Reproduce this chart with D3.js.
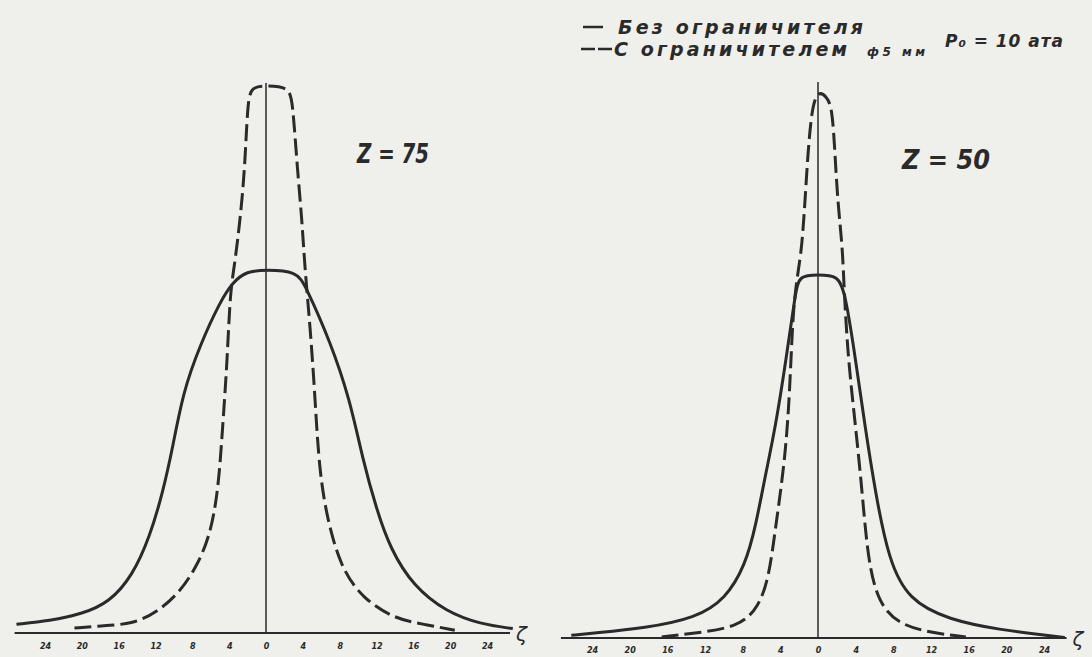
<!DOCTYPE html>
<html><head><meta charset="utf-8">
<script src="https://cdn.jsdelivr.net/npm/d3@7"></script>
<style>
html,body{margin:0;padding:0;background:#efefec;}
svg{display:block;}
text{font-family:"DejaVu Sans",sans-serif;font-style:italic;fill:#2a2a2a;}
</style></head>
<body>
<script>
// ---- data (ζ positions and relative values) ----
const tickValues = [-24,-20,-16,-12,-8,-4,0,4,8,12,16,20,24];
const tickLabels = ["24","20","16","12","8","4","0","4","8","12","16","20","24"];

// Z = 75 panel
const z75SolidZeta = [-27.1,-23.5,-19.9,-17.0,-14.5,-12.6,-11.2,-10.1,-9.0,-7.2,-5.0,-3.6,-2.1,0,3.3,4.3,7.0,9.1,10.5,12.0,13.5,16.0,19.6,23.3,26.8];
const z75SolidVal  = [1.6,2.2,3.5,5.6,10.4,17.6,25.6,34,43.8,52.2,60.2,63.8,65.8,66,65.8,63.1,52.9,42.5,31.6,22.5,15.3,8.5,3.8,1.6,0.8];
const z75DashZeta  = [-20.8,-18,-14.5,-11.8,-9.3,-7.5,-6.1,-5.2,-4.7,-4.2,-3.9,-3.4,-2.8,-2.3,-2.0,-1.6,0,2.5,2.9,3.4,3.9,4.2,4.8,5.3,5.7,6.4,8.0,10.5,14.1,17.1,20.5];
const z75DashVal   = [0.9,1.3,1.6,3.8,7.5,12.2,17.6,25.6,37.6,49.8,62,67,75.3,84.4,96.5,99.3,99.5,99.3,96.5,84.4,75.3,66.7,55.6,43.5,31.6,22.5,12.2,6.2,2.5,1.6,0.5];

// Z = 50 panel
const z50SolidZeta = [-26.2,-23.7,-18.4,-13.0,-9.8,-7.7,-6.6,-5.6,-4.5,-3.4,-2.4,-2.0,0,2.1,2.9,4.0,5.0,6.1,7.5,9.6,13.9,19.3,24.6,26.2];
const z50SolidVal  = [0.5,0.9,1.8,3.6,7.1,13.3,20.5,29.5,38.5,50.5,62.7,66,66,66,62.7,50.5,38.4,26.4,14.2,6.9,3.3,1.5,0.4,0.1];
const z50DashZeta  = [-16.6,-13.0,-8.4,-6.3,-5.2,-4.5,-3.5,-3.0,-2.67,-2.14,-1.71,-1.39,-1.07,-0.64,0,0.9,1.5,1.8,2.1,2.6,2.75,3.2,4.0,4.7,5.3,6.4,8.6,12.2,15.7];
const z50DashVal   = [0.2,0.9,2.0,5.6,11.1,20.2,32.4,44.5,59.6,66.4,71.1,79.1,88.2,96.5,99.5,98.5,96.5,88.2,79.1,71.1,64,50.5,38.4,26.4,14.2,6.4,2.4,0.9,0.2];

const legendLabels = ["Без ограничителя", "С ограничителем", "ф5 мм", "P₀ = 10 ата"];
const panelTitles = ["Z = 75", "Z = 50"];
const axisName = "ζ";

// ---- drawing ----
const W = 1092, H = 657;
const ink = "#2a2a2a";
const svg = d3.select("body").append("svg").attr("width", W).attr("height", H);

const panels = [
  {title: panelTitles[0], xr:[45,487], yr:[633,83], axisExt:[-27.3,26.5], top:83,
   solid:[z75SolidZeta,z75SolidVal], dash:[z75DashZeta,z75DashVal], titleX:357, titleY:163, titleW:72, labY:652},
  {title: panelTitles[1], xr:[592,1044], yr:[638,88], axisExt:[-27.3,26.4], top:82,
   solid:[z50SolidZeta,z50SolidVal], dash:[z50DashZeta,z50DashVal], titleX:902, titleY:169, titleW:88, labY:656}
];

panels.forEach(p => {
  const x = d3.scaleLinear().domain([-24,24]).range(p.xr);
  const y = d3.scaleLinear().domain([0,100]).range(p.yr);
  const g = svg.append("g");

  // axis baseline
  g.append("line")
    .attr("x1", x(p.axisExt[0])).attr("x2", x(p.axisExt[1]))
    .attr("y1", y(0)).attr("y2", y(0))
    .attr("stroke", ink).attr("stroke-width", 2);
  g.append("text").attr("x", x(p.axisExt[1]) + 6).attr("y", y(0) + 8)
    .attr("font-size", 20).attr("font-style","normal").text(axisName);

  // tick labels via d3 axis
  const ax = d3.axisBottom(x).tickValues(tickValues)
    .tickFormat((d,i) => tickLabels[i]).tickSize(0).tickPadding(0);
  const ag = g.append("g").attr("transform", `translate(0,${p.labY - 9})`).call(ax);
  ag.select(".domain").remove();
  ag.selectAll("text").attr("font-size", 8).attr("font-weight", "bold")
    .attr("font-family", "DejaVu Sans").attr("font-style","italic").attr("fill", ink);

  // central vertical line
  g.append("line").attr("x1", x(0)).attr("x2", x(0))
    .attr("y1", p.top).attr("y2", y(0))
    .attr("stroke", ink).attr("stroke-width", 1.5);

  const line = d3.line().x(d => x(d[0])).y(d => y(d[1])).curve(d3.curveBasis);
  const solidPts = p.solid[0].map((z,i) => [z, p.solid[1][i]]);
  const dashPts = p.dash[0].map((z,i) => [z, p.dash[1][i]]);

  g.append("path").attr("d", line(dashPts)).attr("fill","none")
    .attr("stroke", ink).attr("stroke-width", 3).attr("stroke-dasharray","17,6");
  g.append("path").attr("d", line(solidPts)).attr("fill","none")
    .attr("stroke", ink).attr("stroke-width", 3);

  g.append("text").attr("x", p.titleX).attr("y", p.titleY)
    .attr("font-size", 26).attr("font-weight","bold")
    .attr("textLength", p.titleW).attr("lengthAdjust","spacingAndGlyphs").text(p.title);
});

// legend
const lg = svg.append("g");
lg.append("line").attr("x1",583).attr("x2",603).attr("y1",27).attr("y2",27)
  .attr("stroke",ink).attr("stroke-width",2.5);
lg.append("text").attr("x",618).attr("y",34).attr("font-size",19).attr("font-weight","bold")
  .attr("textLength",245).attr("lengthAdjust","spacing").text(legendLabels[0]);
lg.append("line").attr("x1",581).attr("x2",612).attr("y1",49).attr("y2",49)
  .attr("stroke",ink).attr("stroke-width",2.5).attr("stroke-dasharray","14,3");
lg.append("text").attr("x",614).attr("y",56).attr("font-size",19).attr("font-weight","bold")
  .attr("textLength",233).attr("lengthAdjust","spacing").text(legendLabels[1]);
lg.append("text").attr("x",867).attr("y",56).attr("font-size",12).attr("font-weight","bold")
  .attr("textLength",58).attr("lengthAdjust","spacing").text(legendLabels[2]);
lg.append("text").attr("x",945).attr("y",47).attr("font-size",17).attr("font-weight","bold")
  .attr("textLength",118).attr("lengthAdjust","spacing").text(legendLabels[3]);
</script>
</body></html>
